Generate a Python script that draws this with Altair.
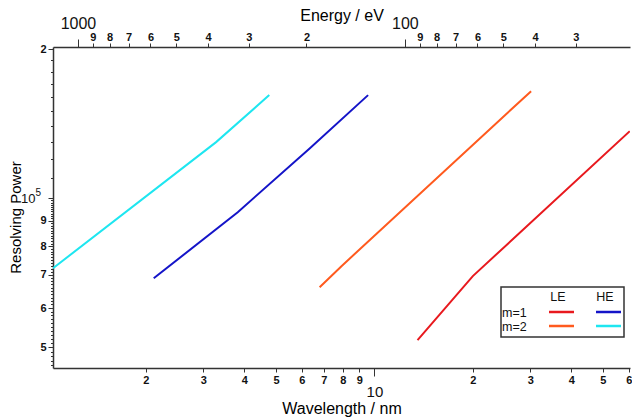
import altair as alt
import pandas as pd

HC = 1239.84  # eV*nm
X_MIN, X_MAX = 1.04, 60.5
Y_MIN, Y_MAX = 45400, 202000

series_names = ["LE m=1", "LE m=2", "HE m=1", "HE m=2"]
series_colors = ["#e8191e", "#ff5a1e", "#1414c8", "#1ee6f0"]

wl_le1 = [13.55, 20.0, 60.4]
rp_le1 = [51700, 69600, 136600]
wl_le2 = [6.80, 7.93, 30.15]
rp_le2 = [66100, 72900, 164500]
wl_he1 = [2.114, 3.82, 6.35, 9.566]
rp_he1 = [68900, 93700, 126200, 161500]
wl_he2 = [1.04, 3.28, 4.77]
rp_he2 = [72200, 129800, 161500]

wl_ticks = [2, 3, 4, 5, 6, 7, 8, 9, 10, 20, 30, 40, 50, 60]
e_ticks = [1000, 900, 800, 700, 600, 500, 400, 300, 200,
           100, 90, 80, 70, 60, 50, 40, 30]
y_major = [50000, 60000, 70000, 80000, 90000, 100000, 200000]
y_minor = list(range(46000, 100000, 1000)) + list(range(110000, 200000, 10000))
y_ticks = sorted(set(y_major + y_minor))
y_decade = [100000]

rows = []
for name, wl, rp in zip(series_names, [wl_le1, wl_le2, wl_he1, wl_he2],
                        [rp_le1, rp_le2, rp_he1, rp_he2]):
    for i, (w, r) in enumerate(zip(wl, rp)):
        rows.append({"series": name, "order": i, "wl": w, "R": r})
df = pd.DataFrame(rows)

AX_COLOR = "#333333"
ymaj_test = "(datum.value < 100000 && datum.value % 10000 == 0) || datum.value == 100000 || datum.value == 200000"

y_axis = alt.Axis(
    values=y_ticks,
    labelExpr="datum.value == 200000 ? '2' : datum.value == 100000 ? '10' : ((datum.value < 100000 && datum.value % 10000 == 0) ? '' + datum.value / 10000 : '')",
    tickSize={"condition": {"test": ymaj_test, "value": 5}, "value": 2.5},
    labelFontSize={"condition": {"test": "datum.value == 100000", "value": 13}, "value": 11},
    labelFontWeight={"condition": {"test": "datum.value == 100000", "value": "normal"}, "value": "bold"},
    labelPadding={"condition": {"test": "datum.value == 100000", "value": 13}, "value": 2},
    labelOverlap=False, labelFlush=False, labelColor="#111",
    grid=False, domainColor=AX_COLOR, domainWidth=1.5, tickColor=AX_COLOR, tickWidth=1,
    title="Resolving Power", titleFontSize=15, titleFontWeight="normal",
    titleAngle=270, titleX=-38, titleY=170, titleBaseline="middle", titleAlign="center",
)

x_axis = alt.Axis(
    values=wl_ticks,
    labelExpr="datum.value == 10 ? '10' : (datum.value > 10 ? '' + datum.value / 10 : '' + datum.value)",
    tickSize={"condition": {"test": "datum.value == 10", "value": 8}, "value": 4},
    labelFontSize={"condition": {"test": "datum.value == 10", "value": 15}, "value": 11},
    labelFontWeight={"condition": {"test": "datum.value == 10", "value": "normal"}, "value": "bold"},
    labelPadding={"condition": {"test": "datum.value == 10", "value": 8}, "value": 2},
    labelOverlap=False, labelFlush=False, labelColor="#111",
    grid=False, domainColor=AX_COLOR, domainWidth=1.5, tickColor=AX_COLOR, tickWidth=1,
    title="Wavelength / nm", titleFontSize=16, titleFontWeight="normal",
    titleY=40, titleBaseline="middle",
)

e_axis = alt.Axis(
    orient="top",
    values=e_ticks,
    labelExpr="(datum.value == 1000 || datum.value == 100) ? '' + datum.value : (datum.value > 100 ? '' + datum.value / 100 : '' + datum.value / 10)",
    tickSize={"condition": {"test": "datum.value == 1000 || datum.value == 100", "value": 8}, "value": 4},
    labelFontSize={"condition": {"test": "datum.value == 1000 || datum.value == 100", "value": 16}, "value": 11},
    labelFontWeight={"condition": {"test": "datum.value == 1000 || datum.value == 100", "value": "normal"}, "value": "bold"},
    labelPadding={"condition": {"test": "datum.value == 1000 || datum.value == 100", "value": 8}, "value": 1},
    labelOverlap=False, labelFlush=False, labelColor="#111",
    grid=False, domainColor=AX_COLOR, domainWidth=1.5, tickColor=AX_COLOR, tickWidth=1,
    title="Energy / eV", titleFontSize=16, titleFontWeight="normal",
    titleY=-32, titleBaseline="middle",
)

x_scale = alt.Scale(type="log", domain=[X_MIN, X_MAX], nice=False)
y_scale = alt.Scale(type="log", domain=[Y_MIN, Y_MAX], nice=False)
e_scale = alt.Scale(type="log", domain=[HC / X_MAX, HC / X_MIN], reverse=True, nice=False)
color_scale = alt.Scale(domain=series_names, range=series_colors)

lines = alt.Chart(df).mark_line(strokeWidth=2, clip=True).encode(
    x=alt.X("wl:Q", scale=x_scale, axis=x_axis),
    y=alt.Y("R:Q", scale=y_scale, axis=y_axis),
    color=alt.Color("series:N", scale=color_scale, legend=None),
    order="order:Q",
)

# exponent of the "10^5" tick label
exponent = alt.Chart(pd.DataFrame({"R": y_decade})).mark_text(
    text="5", fontSize=10, align="left", baseline="middle", dy=-5, color="#111"
).encode(
    x=alt.value(-17.5),
    y=alt.Y("R:Q", scale=y_scale, axis=y_axis),
)

energy = alt.Chart(df).transform_calculate(E=f"{HC} / datum.wl").mark_point(opacity=0).encode(
    x=alt.X("E:Q", scale=e_scale, axis=e_axis),
)

one = pd.DataFrame({"k": [0]})

legend_box = alt.Chart(one).mark_rect(fill="white", stroke=AX_COLOR, strokeWidth=1.5).encode(
    x=alt.value(448), x2=alt.value(571), y=alt.value(240), y2=alt.value(290)
)

def legend_text(txt, x, y, align):
    return alt.Chart(one).mark_text(text=txt, fontSize=12.5, align=align, baseline="middle", color="#111").encode(
        x=alt.value(x), y=alt.value(y)
    )

def legend_line(color, x1, x2, y):
    return alt.Chart(one).mark_rule(color=color, strokeWidth=2.5).encode(
        x=alt.value(x1), x2=alt.value(x2), y=alt.value(y)
    )

legend_layers = [
    legend_box,
    legend_text("LE", 505, 250, "center"),
    legend_text("HE", 552, 250, "center"),
    legend_text("m=1", 449, 266, "left"),
    legend_text("m=2", 449, 280, "left"),
    legend_line(series_colors[0], 496, 521, 265),
    legend_line(series_colors[2], 543, 568, 265),
    legend_line(series_colors[1], 496, 521, 279),
    legend_line(series_colors[3], 543, 568, 279),
]

chart = alt.layer(lines, exponent, energy, *legend_layers).resolve_scale(
    x="independent"
).resolve_axis(x="independent").properties(
    width=577, height=321,
    autosize=alt.AutoSizeParams(type="none"),
    padding={"left": 45, "top": 39, "right": 2, "bottom": 50},
).configure(font="Liberation Sans").configure_view(stroke=None)

chart.save("out.html", embed_options={"renderer": "svg", "actions": False})
